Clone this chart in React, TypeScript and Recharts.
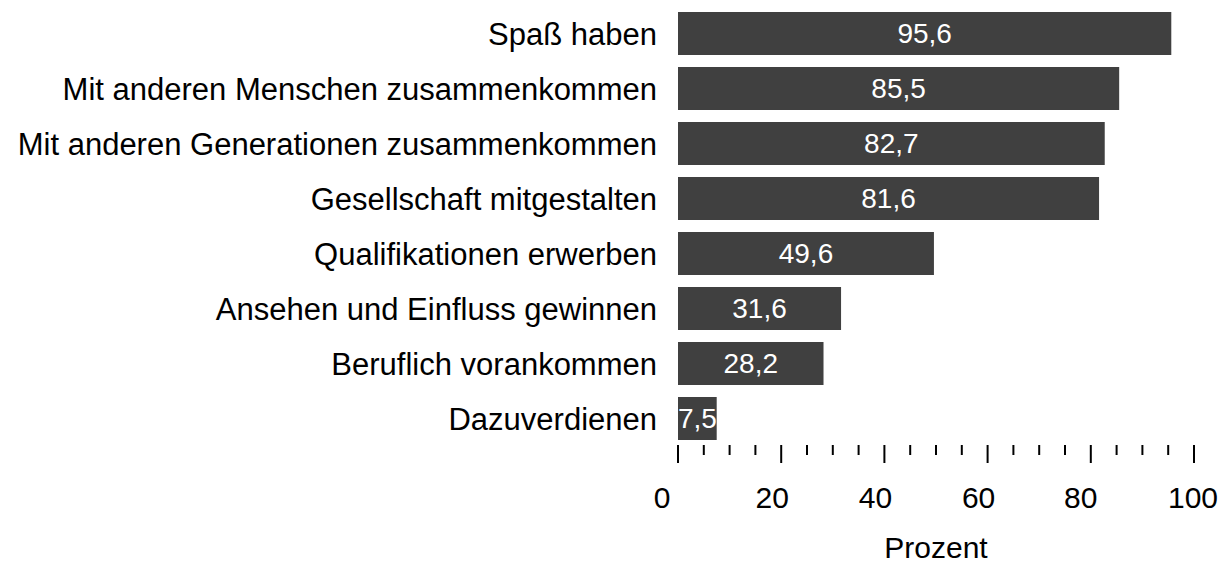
import { Bar, BarChart, LabelList, XAxis, YAxis } from 'recharts';

const categories = [
  'Spaß haben',
  'Mit anderen Menschen zusammenkommen',
  'Mit anderen Generationen zusammenkommen',
  'Gesellschaft mitgestalten',
  'Qualifikationen erwerben',
  'Ansehen und Einfluss gewinnen',
  'Beruflich vorankommen',
  'Dazuverdienen',
];
const percentages = [95.6, 85.5, 82.7, 81.6, 49.6, 31.6, 28.2, 7.5];
const xTicks = [0, 5, 10, 15, 20, 25, 30, 35, 40, 45, 50, 55, 60, 65, 70, 75, 80, 85, 90, 95, 100];
const labelledTicks = [0, 20, 40, 60, 80, 100];

const data = categories.map((name, i) => ({ name, value: percentages[i] }));

// labels in the original sit a little left of their tick marks
const labelShift: Record<number, number> = { 0: -16, 20: -9, 40: -9, 60: -9, 80: -10, 100: -1 };

function XTick({ x, y, payload }: any) {
  const v = payload.value as number;
  const major = labelledTicks.includes(v);
  return (
    <g>
      <line x1={x} x2={x} y1={y - 1} y2={y + (major ? 17 : 9)} stroke="#000" strokeWidth={2} />
      {major && (
        <text x={x + (labelShift[v] ?? 0)} y={y + 62} textAnchor="middle" fontSize={30} fill="#000">
          {v}
        </text>
      )}
    </g>
  );
}

const fmt = (v: any) => String(v).replace('.', ',');

export default function App() {
  return (
    <div style={{ position: 'absolute', left: 0, top: 0 }}>
      <BarChart
        width={1223}
        height={564}
        data={data}
        layout="vertical"
        margin={{ top: 6, right: 29, bottom: 0, left: 0 }}
        style={{ fontFamily: '"Liberation Sans", Arial, sans-serif' }}
      >
        <XAxis
          type="number"
          domain={[0, 100]}
          ticks={xTicks}
          interval={0}
          axisLine={false}
          tickLine={false}
          tickSize={0}
          tickMargin={0}
          height={118}
          tick={<XTick />}
          label={{ value: 'Prozent', position: 'insideBottom', offset: 6, fontSize: 30, fill: '#000' }}
        />
        <YAxis
          type="category"
          dataKey="name"
          width={678}
          axisLine={false}
          tickLine={false}
          tickSize={0}
          tickMargin={21}
          interval={0}
          tick={{ fontSize: 31, fill: '#000' }}
        />
        <Bar dataKey="value" fill="#404040" barSize={43} isAnimationActive={false}>
          <LabelList dataKey="value" position="center" fill="#fff" fontSize={28} formatter={fmt} />
        </Bar>
      </BarChart>
    </div>
  );
}
